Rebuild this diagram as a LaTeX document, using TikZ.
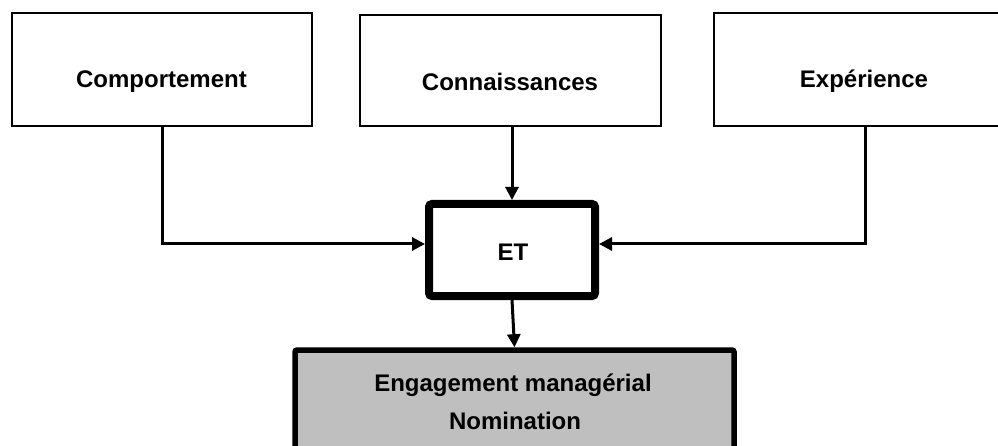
\documentclass[tikz,border=0pt]{standalone}
\usepackage{fontspec}
\setmainfont{Liberation Sans}
\usetikzlibrary{arrows.meta}
\begin{document}
\begin{tikzpicture}[x=1pt,y=-1pt,
  topbox/.style={draw=black,line width=1.3pt,fill=white,inner sep=0pt},
  etbox/.style={draw=black,line width=8pt,fill=white,rounded corners=3pt,inner sep=0pt,minimum width=166pt,minimum height=92pt},
  engbox/.style={draw=black,line width=5.5pt,fill=black!25,rounded corners=2pt,inner sep=0pt,minimum width=439pt,minimum height=112pt},
  lbl/.style={font=\fontsize{24}{28}\selectfont\bfseries,inner sep=0pt,anchor=base},
  conn/.style={line width=3pt,-{Triangle[length=13pt,width=13pt]}}]
\useasboundingbox (0,0) rectangle (998,446);
\node[topbox,minimum width=300pt,minimum height=113pt] (c) at (162,69.5) {};
\node[topbox,minimum width=301pt,minimum height=111pt] (k) at (510.5,70.5) {};
\node[topbox,minimum width=296pt,minimum height=113pt] (x) at (862,69.5) {};
\node[lbl] (tc) at (161.5,88) {Comportement};
\node[lbl] (tk) at (510,91) {Connaissances};
\node[lbl] (tx) at (864,88) {Expérience};
\node[etbox] (et) at (512,250) {};
\node[lbl] (tet) at (513,261) {ET};
\node[engbox] (eng) at (514.5,406) {};
\node[lbl] (te1) at (513,391) {Engagement managérial};
\node[lbl] (te2) at (515,429) {Nomination};
\draw[conn] (c.south) |- ([yshift=6pt]et.west);
\draw[conn] (x.south -| 865,0) |- ([yshift=6pt]et.east);
\draw[conn] (et.north |- k.south) -- (et.north);
\draw[conn] (et.south) -- (eng.north);
\end{tikzpicture}
\end{document}
